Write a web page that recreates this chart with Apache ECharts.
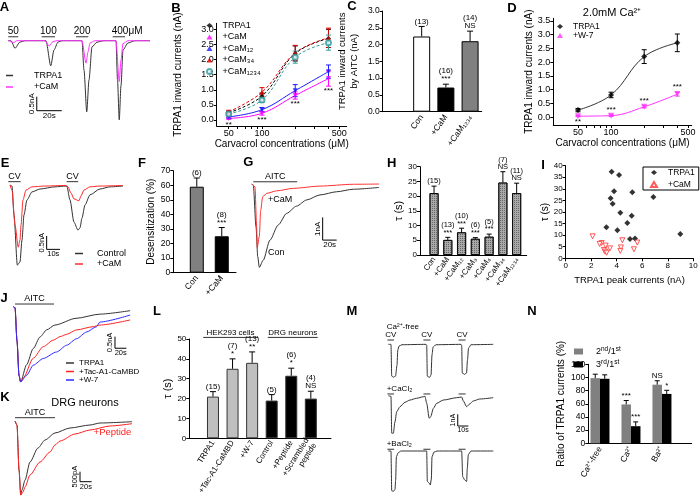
<!DOCTYPE html>
<html lang="en">
<head>
<meta charset="UTF-8">
<title>TRPA1 / CaM figure</title>
<script src="https://cdn.jsdelivr.net/npm/echarts@6/dist/echarts.min.js"></script>
<style>html,body{margin:0;padding:0;background:#fff}#main{width:700px;height:498px}</style>
</head>
<body>
<div id="main"></div>
<script>
var FONT = 'Liberation Sans';

// ---------- A: carvacrol dose traces (s, nA)
var aTrpa1 = [[0,0],[2.4,0],[5.6,-0.27],[9.6,-0.05],[13.6,0],[30.4,0],[34.2,-0.9],[36.8,-0.33],[40,-0.05],[43.2,0],[59.2,0],[60.8,-1.05],[63,-2.54],[64.8,-1.4],[67.2,-0.22],[71.2,-0.05],[76.8,0],[86.4,0],[87.6,-1.4],[89,-2.83],[90.4,-1.6],[92,-0.33],[96,-0.08],[101.6,0],[113.6,0]];
var aCaM = [[0,0],[0.8,0],[4.2,-0.07],[7.2,0],[29.6,0],[33,-0.19],[36,-0.03],[39.2,0],[59.2,0],[62.4,-0.8],[64,-0.4],[65.6,-0.08],[69.6,0],[86.4,0],[89,-1.46],[90.4,-0.69],[92,-0.1],[96,0],[113.6,0]];
var aStim = [[0.2,8.2],[27,37.6],[54.4,64.2],[83.8,93.6]];
var aStimText = ['50','100','200','400μM'];

// ---------- B: dose response
var conc = [50,100,200,400];
var bTrpa1 = [0.24,0.79,2.2,2.7], bTrpa1Err = [0.05,0.1,0.25,0.3];
var bCaM = [0.05,0.22,0.81,1.37], bCaMErr = [0.03,0.06,0.12,0.25];
var bCaM12 = [0.1,0.34,0.97,1.6], bCaM12Err = [0.04,0.07,0.2,0.22];
var bCaM34 = [0.27,0.92,2.22,2.72], bCaM34Err = [0.05,0.15,0.25,0.32];
var bCaM1234 = [0.2,0.66,2.08,2.56], bCaM1234Err = [0.05,0.08,0.2,0.25];
var bSig = ['**','***','***','***'];
var bxLabels = [50,100,500];
var bxTicks = [50,60,70,80,90,100,200,300,400,500];
var bTicks = [0,0.5,1,1.5,2,2.5,3];

// ---------- C
var cCats = ['Con','+CaM','+CaM₁₂₃₄'];
var cVals = [2.24,0.72,2.1], cErr = [0.3,0.1,0.3];
var cN = ['(13)','(16)','(14)'], cSig = ['','***','NS'];

// ---------- D
var dTrpa1 = [0.26,0.81,2.2,2.7], dTrpa1Err = [0.06,0.1,0.25,0.32];
var dW7 = [0.04,0.06,0.38,0.84], dW7Err = [0.02,0.03,0.04,0.07];
var dSig = ['**','***','***','***'];
var dTicks = [0,0.5,1,1.5,2,2.5,3,3.5];

// ---------- E: desensitization traces
var eCon = [[0,0],[1.5,-0.04],[3,-1.12],[5.5,-3.0],[7.5,-2.88],[9,-2.06],[10.5,-1.12],[12.75,-0.56],[16.5,-0.26],[22.5,-0.15],[33.75,-0.07],[42,-0.04],[42.75,-0.07],[45,-0.56],[48,-1.39],[51,-1.69],[52.5,-1.61],[54,-1.24],[56.25,-0.75],[60,-0.37],[67.5,-0.15],[75,-0.07],[84.75,-0.04]];
var eCaM = [[0,0],[1.5,-0.19],[3.75,-1.5],[6.2,-2.33],[7.5,-2.06],[8.25,-1.5],[9.75,-0.56],[12,-0.19],[16.5,-0.07],[26,-0.04],[42,-0.02],[43.5,-0.07],[45.75,-0.3],[48,-0.52],[51.75,-0.59],[53.25,-0.41],[55.5,-0.19],[60,-0.07],[67.5,-0.04],[84.75,-0.02]];
var eStim = [[-1.3,8],[42.5,51.2]];

// ---------- F
var fCats = ['Con','+CaM'];
var fVals = [59,25], fErr = [6,6], fN = ['(6)','(8)'], fSig = ['','***'];

// ---------- G: AITC traces
var gCon = [[0,0],[2.3,-0.04],[6.2,-1.88],[8.6,-3.19],[10.9,-3.67],[16.6,-3.35],[26.1,-2.47],[38,-1.8],[50,-1.29],[64.3,-0.97],[78.6,-0.7],[97.6,-0.48],[121.4,-0.34],[145,-0.23],[182,-0.15]];
var gCaM = [[0,0],[4.7,-0.12],[7.1,-1.88],[8,-2.79],[10.9,-2.3],[12.9,-1.15],[15.7,-0.56],[21.4,-0.41],[35.7,-0.3],[59.5,-0.19],[97.6,-0.09],[145,-0.01],[182,0]];
var gStim = [[2.3,65]];

// ---------- H
var hCats = ['Con','+CaM','+CaM₁₂','+CaM₃','+CaM₄','+CaM₃₄','+CaM₁₂₃₄'];
var hVals = [21,5.1,7.7,5.5,6.2,24.6,21], hErr = [2.4,0.9,1.4,0.4,0.9,3.7,3.4];
var hN = ['(15)','(13)','(10)','(6)','(5)','(7)','(11)'];
var hSig = ['','***','***','***','***','NS','NS'];

// ---------- I: tau vs peak current
var iTrpa1X = [3.6,4.18,3.79,5.22,6.87,3.52,3.68,4.28,5.17,4.83,3.19,4.05,8.98,5.04,5.43];
var iTrpa1Y = [37.4,36,29,28.5,26.5,25.9,23.6,19.7,18.4,15.3,13.4,12.1,10.5,8.3,8.5];
var iCaMX = [2.11,2.82,2.66,3.13,3.47,4.44,5.61,4.33,4.28,3.0,3.08,3.21,5.35];
var iCaMY = [9.5,6.6,6.2,5.5,4.3,7.8,6.8,4.7,3.2,3.6,2.9,2.4,3.9];

// ---------- J: AITC traces HEK
var jTrpa1 = [[0,0],[3,-0.04],[6.5,-1.48],[10,-2.96],[12.8,-3.24],[23.3,-2.5],[35,-1.8],[47,-1.3],[58.4,-1.0],[73,-0.79],[110,-0.5],[152,-0.32],[205,-0.17]];
var jTac = [[0,0],[3,-0.04],[6.5,-1.48],[10,-2.96],[12.8,-3.24],[17.5,-3.07],[35,-2.22],[52.6,-1.72],[70.2,-1.44],[82,-1.29],[93.6,-1.19],[111,-1.0],[140,-0.86],[152,-0.79],[205,-0.57]];
var jW7 = [[0,0],[3,-0.04],[6.5,-1.48],[10,-2.96],[12.8,-3.24],[23.5,-2.95],[35,-2.52],[52.6,-2.23],[76,-1.95],[93.6,-1.66],[111,-1.38],[128.6,-1.09],[146,-0.86],[152,-0.66],[205,-0.36]];
var jStim = [[3,71.4]];

// ---------- K: DRG neurons
var kCon = [[0,0],[3.4,-0.2],[6.9,-2.45],[9.8,-3.7],[12,-3.45],[17.2,-2.95],[25.7,-2.05],[39.4,-1.35],[51.5,-0.95],[68.6,-0.6],[94.3,-0.35],[128.6,-0.2],[145.8,-0.1],[200.7,-0.035]];
var kPep = [[0,0],[3.4,-0.2],[6.9,-2.45],[9.8,-3.7],[13.7,-3.55],[17.2,-3.3],[25.7,-2.7],[42.9,-2.05],[60,-1.55],[68.6,-1.2],[77.2,-1.0],[102.9,-0.65],[128.6,-0.45],[163,-0.25],[200.7,-0.135]];
var kStim = [[0,68.6]];

// ---------- L
var lCats = ['TRPA1','+Tac-A1-CaMBD','+W-7','Control','+Peptide','+Scrambled\npeptide'];
var lVals = [21,35,38,19,31.5,20], lErr = [2.5,5,5.5,3,3.8,3.7];
var lN = ['(15)','(7)','(13)','(5)','(6)','(4)'], lSig = ['','*','**','','*','NS'];
var lGroups = [[-0.5,2.3],[2.8,5.35]], lGroupText = ['HEK293 cells','DRG neurons'];

// ---------- M: repeated CV pulses
var mFree = [[0,0],[2.5,0],[3.2,-2.71],[4.7,-2.8],[6.8,-2.71],[8.2,-1.77],[8.9,-0.49],[10.1,-0.15],[12.9,-0.03],[35.6,0],[36.2,-0.06],[36.8,-2.71],[38.9,-2.82],[40.3,-2.62],[41.2,-0.91],[42.2,-0.23],[45,-0.03],[68.6,0],[69.2,-0.06],[69.8,-2.45],[71.9,-2.56],[73.8,-2.45],[74.7,-1.34],[75.7,-0.32],[78,-0.03],[99,0]];
var mCa = [[0,0],[2.5,-0.05],[3.2,-3.2],[4.7,-3.21],[6.3,-2.21],[7.9,-1.37],[11,-0.94],[15.7,-0.56],[20.4,-0.37],[26.7,-0.22],[33,-0.09],[34.6,-0.05],[36.2,-0.65],[38.6,-1.93],[40,-1.79],[42.5,-1.08],[45.6,-0.65],[51.9,-0.37],[64.5,-0.17],[69.2,-0.11],[70.8,-0.45],[73.9,-0.94],[76.3,-0.74],[80.1,-0.45],[86.4,-0.28],[99,-0.17]];
var mBa = [[0,0],[2.5,0],[3.2,-3.4],[4.7,-3.45],[6.3,-3.3],[6.9,-2.5],[7.6,-0.5],[9.2,-0.15],[12,0],[36.2,0],[36.8,-2.6],[38.6,-2.75],[39.6,-2.9],[40.6,-2.4],[41.2,-0.5],[43,-0.1],[46,0],[69.2,0],[70.2,-2.2],[72.3,-2.5],[73.9,-2.6],[74.5,-1.5],[75.5,-0.3],[78,0],[99,0]];
var mStim = [[-0.9,5.4],[33.1,39.7],[66.3,72.9]];

// ---------- N
var nCats = ['Ca²⁺-free','Ca²⁺','Ba²⁺'];
var n2nd = [99,59,89], n2ndErr = [6,6,6], n2ndSig = ['','***','NS'];
var n3rd = [98,26,75], n3rdErr = [6,6.5,5.5], n3rdSig = ['','***','*'];

// ================= helpers
var grids = [], xAxes = [], yAxes = [], series = [], legends = [], graphics = [];

function merge(a, o) {
    for (var k in o) {
        if (o[k] && typeof o[k] === 'object' && !Array.isArray(o[k]) && a[k] && typeof a[k] === 'object') merge(a[k], o[k]);
        else a[k] = o[k];
    }
    return a;
}
function ax(o) {
    return merge({
        type: 'value', splitLine: {show: false},
        axisLine: {show: true, onZero: false, lineStyle: {color: '#000', width: 1}},
        axisTick: {show: true, length: 3, lineStyle: {color: '#000', width: 1}},
        axisLabel: {color: '#000', fontSize: 8, margin: 3, fontFamily: FONT},
        nameLocation: 'middle',
        nameTextStyle: {color: '#000', fontSize: 10, fontFamily: FONT}
    }, o || {});
}
function hid(min, max) {
    return {type: 'value', show: false, min: min, max: max, axisLine: {onZero: false}, splitLine: {show: false}};
}
function addGrid(box, xa, ya) {
    var gi = grids.length;
    grids.push({left: box[0], top: box[1], width: box[2], height: box[3], outerBoundsMode: 'none'});
    xa.gridIndex = gi; ya.gridIndex = gi;
    xAxes.push(xa); yAxes.push(ya);
    return gi;
}
function trace(gi, data, color, name) {
    return {type: 'line', name: name, xAxisIndex: gi, yAxisIndex: gi, data: data, symbol: 'none', showSymbol: false,
        smooth: 0.25, smoothMonotone: 'x', lineStyle: {color: color, width: 1}, itemStyle: {color: color}, silent: true};
}
function stim(gi, spans, level, labels, o) {
    o = o || {};
    return {type: 'custom', xAxisIndex: gi, yAxisIndex: gi, silent: true, clip: false,
        data: spans.map(function (s) { return [s[0], s[1], level]; }),
        renderItem: function (params, api) {
            var i = params.dataIndex;
            var p0 = api.coord([api.value(0), api.value(2)]);
            var p1 = api.coord([api.value(1), api.value(2)]);
            var ch = [{type: 'line', shape: {x1: p0[0], y1: p0[1], x2: p1[0], y2: p1[1]}, style: {stroke: '#333', lineWidth: 1}}];
            var lab = labels && labels[i];
            if (lab) {
                var left = o.leftIdx === i;
                ch.push({type: 'text', x: left ? p0[0] - 1 : (p0[0] + p1[0]) / 2, y: p0[1] - 1,
                    style: {text: lab, align: left ? 'left' : 'center', verticalAlign: 'bottom', font: (o.fs || 9) + 'px ' + FONT, fill: '#000'}});
            }
            return {type: 'group', children: ch};
        }};
}
function scaleBar(gi, corner, lens, labels, fs) {
    return {type: 'custom', xAxisIndex: gi, yAxisIndex: gi, silent: true, clip: false,
        data: [[corner[0], corner[1], lens[0], lens[1]]],
        renderItem: function (params, api) {
            var t = api.value(0), v = api.value(1);
            var c = api.coord([t, v]), h = api.coord([t + api.value(2), v]), u = api.coord([t, v + api.value(3)]);
            var f = (fs || 8) + 'px ' + FONT;
            return {type: 'group', children: [
                {type: 'line', shape: {x1: c[0], y1: c[1], x2: h[0], y2: h[1]}, style: {stroke: '#000', lineWidth: 1}},
                {type: 'line', shape: {x1: c[0], y1: c[1], x2: u[0], y2: u[1]}, style: {stroke: '#000', lineWidth: 1}},
                {type: 'text', x: (c[0] + h[0]) / 2, y: c[1] + 1, style: {text: labels[0], align: 'center', verticalAlign: 'top', font: f, fill: '#000'}},
                {type: 'text', x: c[0] - 1, y: (c[1] + u[1]) / 2, rotation: Math.PI / 2, style: {text: labels[1], align: 'center', verticalAlign: 'bottom', font: f, fill: '#000'}}
            ]};
        }};
}
function errs(gi, xs, means, es, o) {
    o = o || {};
    var col = o.color || '#000', cap = o.cap || 3, dx = o.dx || 0, fs = o.fs || 8;
    return {type: 'custom', xAxisIndex: gi, yAxisIndex: gi, silent: true, clip: false, z: 4,
        data: xs.map(function (x, i) { return [x, means[i], es[i]]; }),
        renderItem: function (params, api) {
            var i = params.dataIndex, x = api.value(0), m = api.value(1), e = api.value(2);
            var t = api.coord([x, m + e]), b = api.coord([x, o.both ? m - e : m]);
            var px = t[0] + dx;
            var st = {stroke: col, lineWidth: 1};
            var ch = [
                {type: 'line', shape: {x1: px, y1: t[1], x2: px, y2: b[1]}, style: st},
                {type: 'line', shape: {x1: px - cap, y1: t[1], x2: px + cap, y2: t[1]}, style: st}
            ];
            if (o.both) ch.push({type: 'line', shape: {x1: px - cap, y1: b[1], x2: px + cap, y2: b[1]}, style: st});
            var lines = [];
            if (o.n && o.n[i]) lines.push(o.n[i]);
            if (o.sig && o.sig[i]) lines.push(o.sig[i]);
            if (lines.length) ch.push({type: 'text', x: px, y: t[1] - 1,
                style: {text: lines.join('\n'), align: 'center', verticalAlign: 'bottom', font: fs + 'px ' + FONT, fill: '#000', lineHeight: fs}});
            return {type: 'group', children: ch};
        }};
}
function sigText(gi, xs, means, es, texts, places) {
    return {type: 'custom', xAxisIndex: gi, yAxisIndex: gi, silent: true, clip: false,
        data: xs.map(function (x, i) { return [x, means[i], es[i]]; }),
        renderItem: function (params, api) {
            var i = params.dataIndex, below = places[i] === 'below';
            var p = api.coord([api.value(0), below ? api.value(1) - api.value(2) : api.value(1) + api.value(2)]);
            return {type: 'text', x: p[0], y: below ? p[1] + 1 : p[1] - 1,
                style: {text: texts[i], align: 'center', verticalAlign: below ? 'top' : 'bottom', font: '8px ' + FONT, fill: '#000'}};
        }};
}
function bars(gi, vals, colors, w, extra) {
    return {type: 'bar', xAxisIndex: gi, yAxisIndex: gi, barWidth: w, silent: true,
        data: vals.map(function (v, i) { return {value: [i, v], itemStyle: {color: colors[i]}}; }),
        itemStyle: merge({borderColor: '#000', borderWidth: 1}, extra || {})};
}
function idx(arr) { return arr.map(function (d, i) { return i; }); }
function lg(o) {
    return merge({orient: 'vertical', itemWidth: 7, itemHeight: 1.5, itemGap: 2, padding: 0, selectedMode: false,
        textStyle: {color: '#000', fontSize: 9, fontFamily: FONT},
        formatter: function (n) { return n.slice(n.indexOf('|') + 1); }}, o);
}
function txt(x, y, s, fs, o) {
    o = o || {};
    graphics.push({type: 'text', x: x, y: y, silent: true,
        style: {text: s, font: (o.bold ? 'bold ' : '') + fs + 'px ' + FONT, fill: o.color || '#000',
            align: o.align || 'center', verticalAlign: 'middle', textAlign: o.align || 'center', textVerticalAlign: 'middle'}});
}
var log = function (c) { return Math.log10(c); };

// ================= A
var gA = addGrid([8, 35.1, 142, 89.6], hid(0, 113.6), hid(-3, 0.2));
series.push(trace(gA, aTrpa1, '#333', 'A|TRPA1'), trace(gA, aCaM, '#ff33ff', 'A|+CaM'));
series.push(stim(gA, aStim, 0.14, aStimText, {fs: 10, leftIdx: 3}));
series.push(scaleBar(gA, [23, -2.5], [20, 0.5], ['20s', '0.5nA'], 8));
legends.push(lg({data: ['A|TRPA1', 'A|+CaM'], icon: 'rect', left: 6, top: 71, itemGap: 2.5, textStyle: {padding: [0, 0, 0, 16]}}));

// ================= B
var gB = addGrid([216.7, 23.3, 130, 102.7],
    ax({min: 1.5904, max: 2.767, axisTick: {customValues: bxTicks.map(log)},
        axisLabel: {fontSize: 9, customValues: bxLabels.map(log), formatter: function (v) { return String(Math.round(Math.pow(10, v))); }},
        name: 'Carvacrol concentrations (μM)', nameGap: 12}),
    ax({min: -0.2, max: 3.2, axisTick: {customValues: bTicks},
        axisLabel: {fontSize: 9, customValues: bTicks, formatter: function (v) { return v.toFixed(1); }},
        name: 'TRPA1 inward currents (nA)', nameGap: 33}));
var bSets = [
    {name: 'TRPA1', v: bTrpa1, e: bTrpa1Err, c: '#000', sym: 'diamond', rot: 0, dash: [3, 2]},
    {name: '+CaM', v: bCaM, e: bCaMErr, c: '#ff00ff', sym: 'triangle', rot: 180, dash: 'solid'},
    {name: '+CaM₁₂', v: bCaM12, e: bCaM12Err, c: '#1a1aff', sym: 'triangle', rot: 180, dash: 'solid'},
    {name: '+CaM₃₄', v: bCaM34, e: bCaM34Err, c: '#e00000', sym: 'triangle', rot: 0, dash: [3, 2]},
    {name: '+CaM₁₂₃₄', v: bCaM1234, e: bCaM1234Err, c: '#2e9b9b', sym: 'emptyCircle', rot: 0, dash: [3, 2]}
];
bSets.forEach(function (s) {
    var pts = conc.map(function (c, i) { return [log(c), s.v[i]]; });
    series.push({type: 'line', name: 'Bfit|' + s.name, xAxisIndex: gB, yAxisIndex: gB, data: pts, symbol: 'none', smooth: 0.4, silent: true,
        lineStyle: {color: s.c, width: 1, type: s.dash}});
    series.push(errs(gB, conc.map(log), s.v, s.e, {both: true, color: s.c, cap: 2.5}));
    series.push({type: 'scatter', name: 'B|' + s.name, xAxisIndex: gB, yAxisIndex: gB, data: pts, symbol: s.sym, symbolRotate: s.rot,
        symbolSize: 5, itemStyle: {color: s.c}, silent: true, z: 5});
});
series.push(sigText(gB, conc.map(log), bCaM, bCaMErr, bSig, ['below', 'below', 'below', 'below']));
legends.push(lg({data: bSets.map(function (s) { return 'B|' + s.name; }), left: 206, top: 21, itemWidth: 6, itemHeight: 5, itemGap: 2.5,
    textStyle: {fontSize: 9, padding: [0, 0, 0, 5]}}));

// ================= C
var gC = addGrid([382.7, 11, 99, 100.7],
    ax({min: -1.61, max: 2.48, axisTick: {show: false},
        axisLabel: {fontSize: 8.5, rotate: 55, margin: 4, customValues: idx(cCats), formatter: function (v) { return cCats[Math.round(v)]; }}}),
    ax({min: 0, max: 3, interval: 0.5, axisLabel: {fontSize: 8.5, formatter: function (v) { return v.toFixed(1); }},
        name: 'TRPA1 inward currents\nby AITC (nA)', nameGap: 22, nameTextStyle: {fontSize: 9.5, lineHeight: 12}}));
series.push(bars(gC, cVals, ['#fff', '#000', '#808080'], 17));
series.push(errs(gC, idx(cCats), cVals, cErr, {n: cN, sig: cSig, cap: 3}));

// ================= D
var gD = addGrid([553.3, 18.3, 138.4, 106.7],
    ax({min: 1.4745, max: 2.733, axisTick: {customValues: bxTicks.map(log)},
        axisLabel: {fontSize: 9, customValues: bxLabels.map(log), formatter: function (v) { return String(Math.round(Math.pow(10, v))); }},
        name: 'Carvacrol concentrations (μM)', nameGap: 10}),
    ax({min: -0.28, max: 3.59, axisTick: {customValues: dTicks},
        axisLabel: {fontSize: 9, customValues: dTicks, formatter: function (v) { return v.toFixed(1); }},
        name: 'TRPA1 inward currents (nA)', nameGap: 19}));
[{name: 'TRPA1', v: dTrpa1, e: dTrpa1Err, c: '#000', sym: 'diamond', rot: 0},
 {name: '+W-7', v: dW7, e: dW7Err, c: '#ff33ff', sym: 'triangle', rot: 180}].forEach(function (s) {
    var pts = conc.map(function (c, i) { return [log(c), s.v[i]]; });
    series.push({type: 'line', name: 'Dfit|' + s.name, xAxisIndex: gD, yAxisIndex: gD, data: pts, symbol: 'none', smooth: 0.4, silent: true,
        lineStyle: {color: s.c === '#000' ? '#333' : s.c, width: 1}});
    series.push(errs(gD, conc.map(log), s.v, s.e, {both: true, color: s.c, cap: 2.5}));
    series.push({type: 'scatter', name: 'D|' + s.name, xAxisIndex: gD, yAxisIndex: gD, data: pts, symbol: s.sym, symbolRotate: s.rot,
        symbolSize: 6, itemStyle: {color: s.c}, silent: true, z: 5});
});
series.push(sigText(gD, conc.map(log), dW7, dW7Err, dSig, ['below', 'above', 'above', 'above']));
legends.push(lg({data: ['D|TRPA1', 'D|+W-7'], left: 557, top: 22, itemWidth: 6, itemHeight: 5, itemGap: 0,
    textStyle: {fontSize: 8.5, padding: [0, 0, 0, 5]}}));

// ================= E
var gE = addGrid([8, 182.3, 115.3, 85.5], hid(-1.5, 85), hid(-3.1, 0.1));
series.push(trace(gE, eCon, '#333', 'E|Control'), trace(gE, eCaM, '#ff2a2a', 'E|+CaM'));
series.push(stim(gE, eStim, 0.124, ['CV', 'CV'], {fs: 9}));
series.push(scaleBar(gE, [27.5, -2.41], [10, 0.5], ['10s', '0.5nA'], 7.5));
legends.push(lg({data: ['E|Control', 'E|+CaM'], icon: 'rect', left: 75, top: 249, itemWidth: 8, itemGap: 1.5, textStyle: {padding: [0, 0, 0, 9]}}));

// ================= F
var gF = addGrid([173.3, 170.7, 62.7, 102],
    ax({min: -0.94, max: 1.57, axisTick: {show: false},
        axisLabel: {fontSize: 8.5, rotate: 50, margin: 4, customValues: idx(fCats), formatter: function (v) { return fCats[Math.round(v)]; }}}),
    ax({min: 0, max: 70, interval: 10, axisLabel: {fontSize: 8.5}, name: 'Desensitization (%)', nameGap: 17}));
series.push(bars(gF, fVals, ['#808080', '#000'], 14));
series.push(errs(gF, idx(fCats), fVals, fErr, {n: fN, sig: fSig, cap: 3}));

// ================= G
var gG = addGrid([250, 179.5, 131.9, 90.8], hid(-2.4, 186), hid(-3.8, 0.2));
series.push(trace(gG, gCon, '#333', 'G|Con'), trace(gG, gCaM, '#ff3030', 'G|+CaM'));
series.push(stim(gG, gStim, 0.1, ['AITC'], {fs: 9}));
series.push(scaleBar(gG, [101.4, -2.47], [20, 1], ['20s', '1nA'], 8));

// ================= H
var gH = addGrid([420, 166.7, 106.7, 88.3],
    ax({min: -1.02, max: 6.73, axisTick: {show: false},
        axisLabel: {fontSize: 8, rotate: 55, margin: 3, customValues: idx(hCats), formatter: function (v) { return hCats[Math.round(v)]; }}}),
    ax({min: 0, max: 30, interval: 5, axisLabel: {fontSize: 8}, name: 'τ (s)', nameGap: 15, nameTextStyle: {fontSize: 11}}));
series.push(bars(gH, hVals, hVals.map(function () { return '#a9a9a9'; }), 9,
    {borderWidth: 0.8, decal: {symbol: 'rect', symbolSize: 1, dashArrayX: [1, 1], dashArrayY: [1, 1], color: 'rgba(40,40,40,0.5)'}}));
series.push(errs(gH, idx(hCats), hVals, hErr, {n: hN, sig: hSig, cap: 2.5, fs: 7.5}));

// ================= I
var gI = addGrid([565.7, 165.7, 127.6, 92.6],
    ax({min: 0, max: 10, interval: 2, axisLabel: {fontSize: 8}, name: 'TRPA1 peak currents (nA)', nameGap: 17, nameTextStyle: {fontSize: 9.5}}),
    ax({min: 0, max: 40, interval: 5, axisLabel: {fontSize: 8}, name: 'τ (s)', nameGap: 13, nameTextStyle: {fontSize: 10}}));
series.push({type: 'scatter', name: 'I|TRPA1', xAxisIndex: gI, yAxisIndex: gI, symbol: 'diamond', symbolSize: 6, itemStyle: {color: '#000'}, silent: true,
    data: iTrpa1X.map(function (x, i) { return [x, iTrpa1Y[i]]; })});
series.push({type: 'scatter', name: 'I|+CaM', xAxisIndex: gI, yAxisIndex: gI, symbol: 'triangle', symbolRotate: 180, symbolSize: 5,
    itemStyle: {color: '#fff', borderColor: '#ff3030', borderWidth: 1}, silent: true,
    data: iCaMX.map(function (x, i) { return [x, iCaMY[i]]; })});
legends.push(lg({data: ['I|TRPA1', 'I|+CaM'], left: 643, top: 167, itemWidth: 6, itemHeight: 5, itemGap: 3, padding: [1, 4, 1, 7],
    borderColor: '#000', borderWidth: 1, textStyle: {fontSize: 8.5, padding: [0, 0, 0, 6]}}));

// ================= J
var gJ = addGrid([12, 304.4, 121, 81.2], hid(-2.3, 210), hid(-3.4, 0.1));
series.push(trace(gJ, jTrpa1, '#333', 'J|TRPA1'), trace(gJ, jTac, '#ff2020', 'J|+Tac-A1-CaMBD'), trace(gJ, jW7, '#2a2aff', 'J|+W-7'));
series.push(stim(gJ, jStim, 0.116, ['AITC'], {fs: 9}));
series.push(scaleBar(gJ, [178.4, -1.79], [20, 0.5], ['20s', '0.5nA'], 7.5));
legends.push(lg({data: ['J|TRPA1', 'J|+Tac-A1-CaMBD', 'J|+W-7'], icon: 'rect', left: 66, top: 359, itemWidth: 8, itemGap: 0.5,
    textStyle: {fontSize: 8, padding: [0, 0, 0, 0]}}));

// ================= K
var gK = addGrid([13.5, 419, 121, 78], hid(-2.6, 205), hid(-3.8, 0.1));
series.push(trace(gK, kCon, '#333', 'K|Con'), trace(gK, kPep, '#ff2020', 'K|+Peptide'));
series.push(stim(gK, kStim, 0.165, ['AITC'], {fs: 9}));
series.push(scaleBar(gK, [111.5, -3.035], [20, 0.5], ['20s', '500pA'], 7.5));

// ================= L
var gL = addGrid([189.3, 339, 141.7, 99.3],
    ax({min: -1.21, max: 6.03, axisTick: {show: false},
        axisLabel: {fontSize: 8, rotate: 58, margin: 3, lineHeight: 9, customValues: idx(lCats), formatter: function (v) { return lCats[Math.round(v)]; }}}),
    ax({min: 0, max: 50, interval: 10, axisLabel: {fontSize: 8}, name: 'τ (s)', nameGap: 14, nameTextStyle: {fontSize: 11}}));
series.push(bars(gL, lVals, ['#bfbfbf', '#bfbfbf', '#bfbfbf', '#000', '#000', '#000'], 12, {borderColor: '#333'}));
series.push(errs(gL, idx(lCats), lVals, lErr, {n: lN, sig: lSig, cap: 3}));
series.push(stim(gL, lGroups, 50.8, lGroupText, {fs: 8}));

// ================= M
var gM1 = addGrid([386, 338.5, 108.3, 41], hid(-2.2, 100), hid(-3.0, 0.5));
var gM2 = addGrid([386, 392.2, 108.3, 43.3], hid(-2.2, 100), hid(-3.4, 0.3));
var gM3 = addGrid([386, 447.5, 108.3, 45.6], hid(-2.2, 100), hid(-3.6, 0.3));
series.push(trace(gM1, mFree, '#333', 'M|free'), trace(gM2, mCa, '#333', 'M|Ca'), trace(gM3, mBa, '#333', 'M|Ba'));
series.push(stim(gM1, mStim, 0.37, ['CV', 'CV', 'CV'], {fs: 8}));
series.push(stim(gM2, mStim, 0.15, null), stim(gM3, mStim, 0.15, null));
series.push(scaleBar(gM2, [65.5, -2.59], [10, 1], ['10s', '1nA'], 7));

// ================= N
var gN = addGrid([588.3, 364.3, 103.4, 79],
    ax({min: -0.377, max: 2.96, axisTick: {show: false},
        axisLabel: {fontSize: 8.5, rotate: 60, margin: 4, customValues: idx(nCats), formatter: function (v) { return nCats[Math.round(v)]; }}}),
    ax({min: 0, max: 120, interval: 20, axisLabel: {fontSize: 8.5}, name: 'Ratio of TRPA1 currents (%)', nameGap: 22, nameTextStyle: {fontSize: 10}}));
series.push({type: 'bar', name: 'N|2{s|nd}/1{s|st}', xAxisIndex: gN, yAxisIndex: gN, barWidth: 9.5, barGap: '0%', silent: true,
    itemStyle: {color: '#808080'}, data: n2nd.map(function (v, i) { return [i, v]; })});
series.push({type: 'bar', name: 'N|3{s|rd}/1{s|st}', xAxisIndex: gN, yAxisIndex: gN, barWidth: 9.5, barGap: '0%', silent: true,
    itemStyle: {color: '#000'}, data: n3rd.map(function (v, i) { return [i, v]; })});
series.push(errs(gN, idx(nCats), n2nd, n2ndErr, {sig: n2ndSig, dx: -4.75, cap: 2.5}));
series.push(errs(gN, idx(nCats), n3rd, n3rdErr, {sig: n3rdSig, dx: 4.75, cap: 2.5}));
legends.push(lg({data: ['N|2{s|nd}/1{s|st}', 'N|3{s|rd}/1{s|st}'], icon: 'rect', left: 574, top: 346, itemWidth: 9, itemHeight: 6, itemGap: 3,
    textStyle: {fontSize: 9, padding: [0, 0, 0, 8], rich: {s: {fontSize: 6.5, verticalAlign: 'top', padding: [0, 0, 4, 0]}}}}));

// ================= free text
[['A', 4.5, 7.5], ['B', 176, 8.3], ['C', 352, 6.7], ['D', 512, 8.3], ['E', 5, 163.3], ['F', 142, 163.3], ['G', 248.3, 162],
 ['H', 391.7, 163.3], ['I', 543, 165], ['J', 4, 298.3], ['K', 5, 397], ['L', 157, 311.7], ['M', 352, 311.7], ['N', 532, 311.7]]
    .forEach(function (p) { txt(p[1], p[2], p[0], 13, {bold: true}); });
txt(612, 13.3, '2.0mM Ca²⁺', 11);
txt(85, 403, 'DRG neurons', 11);
txt(112.5, 432, '+Peptide', 9.5, {color: '#ff2020'});
txt(268, 199.3, '+CaM', 9, {align: 'left'});
txt(268, 252.7, 'Con', 9, {align: 'left'});
txt(386.7, 326.7, 'Ca²⁺-free', 8, {align: 'left'});
txt(386.7, 388.3, '+CaCl₂', 8, {align: 'left'});
txt(386.7, 443.3, '+BaCl₂', 8, {align: 'left'});

var option = {
    animation: false,
    backgroundColor: '#fff',
    textStyle: {fontFamily: FONT},
    grid: grids,
    xAxis: xAxes,
    yAxis: yAxes,
    legend: legends,
    graphic: graphics,
    series: series
};

var myChart = echarts.init(document.getElementById('main'), null, {renderer: 'canvas'});
myChart.setOption(option);
</script>
</body>
</html>
